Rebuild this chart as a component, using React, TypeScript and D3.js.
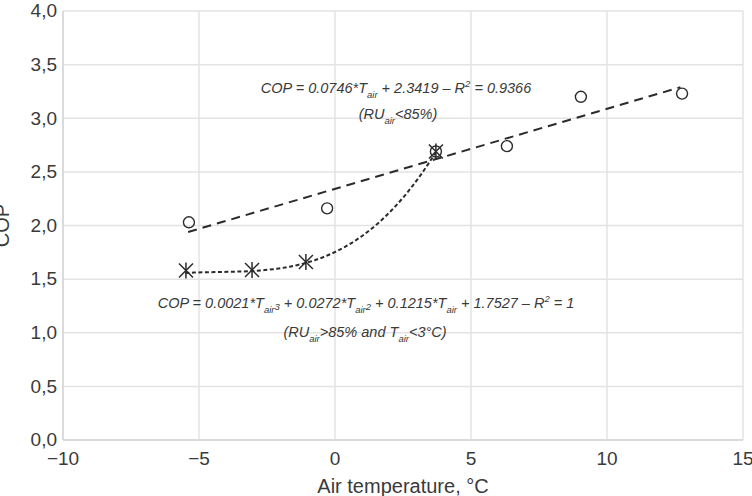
import React from "react";
import * as d3 from "d3";

const circleT = [-5.37, -0.29, 3.71, 6.32, 9.04, 12.76];
const circleCOP = [2.03, 2.16, 2.69, 2.74, 3.2, 3.23];
const starT = [-5.48, -3.05, -1.07, 3.71];
const starCOP = [1.58, 1.585, 1.66, 2.69];
const linCoef = [0.0746, 2.3419];
const linRange = [-5.4, 12.7];
const cubCoef = [0.0021, 0.0272, 0.1215, 1.7527];
const cubRange = [-5.5, 3.7];
const xTicks = [-10, -5, 0, 5, 10, 15];
const yTicks = [0, 0.5, 1, 1.5, 2, 2.5, 3, 3.5, 4];

const W = 752, H = 496;
const L = 63, R = 743, T = 11, B = 440;

export default function App() {
  const x = d3.scaleLinear().domain([-10, 15]).range([L, R]);
  const y = d3.scaleLinear().domain([0, 4]).range([B, T]);
  const fmt = (v: number) => v.toFixed(1).replace(".", ",");
  const fmtX = (v: number) => (v < 0 ? "\u2212" + Math.abs(v) : String(v));

  const lin = (t: number) => linCoef[0] * t + linCoef[1];
  const cub = (t: number) =>
    cubCoef[0] * t * t * t + cubCoef[1] * t * t + cubCoef[2] * t + cubCoef[3];
  const linPath = d3
    .line<number>()
    .x((t) => x(t))
    .y((t) => y(lin(t)))(linRange);
  const cubPts = d3.range(0, 61).map((i) => cubRange[0] + ((cubRange[1] - cubRange[0]) * i) / 60);
  const cubPath = d3
    .line<number>()
    .x((t) => x(t))
    .y((t) => y(cub(t)))(cubPts);

  const grid = "#e3e3e3";
  const ink = "#2b2b2b";
  const font = "'Liberation Sans', Arial, sans-serif";
  const s = 7;
  const sub = 9.5;

  return (
    <svg
      width={W}
      height={H}
      style={{ position: "absolute", left: 0, top: 0, background: "#fff" }}
      fontFamily={font}
    >
      {yTicks.map((v) => (
        <line key={"gy" + v} x1={L} x2={R} y1={y(v)} y2={y(v)} stroke={grid} strokeWidth={1.5} />
      ))}
      {xTicks.map((v) => (
        <line key={"gx" + v} x1={x(v)} x2={x(v)} y1={T} y2={B} stroke={grid} strokeWidth={1.5} />
      ))}
      <line x1={L} x2={L} y1={T} y2={B} stroke="#d6d6d6" strokeWidth={1.5} />
      <line x1={L} x2={R} y1={B} y2={B} stroke="#d6d6d6" strokeWidth={1.5} />
      {yTicks.map((v) => (
        <text key={"ty" + v} x={L - 6} y={y(v)} dy="0.33em" textAnchor="end" fontSize={19} fill="#3a3a3a">
          {fmt(v)}
        </text>
      ))}
      {xTicks.map((v) => (
        <text key={"tx" + v} x={x(v)} y={465} textAnchor="middle" fontSize={19} fill="#3a3a3a">
          {fmtX(v)}
        </text>
      ))}
      <text x={403} y={493} textAnchor="middle" fontSize={20} fill="#3a3a3a">
        Air temperature, °C
      </text>
      <text
        transform={`translate(9,${(T + B) / 2}) rotate(-90)`}
        textAnchor="middle"
        fontSize={20}
        fill="#3a3a3a"
      >
        COP
      </text>

      <path d={linPath || ""} fill="none" stroke={ink} strokeWidth={2} strokeDasharray="9 6" />
      <path d={cubPath || ""} fill="none" stroke={ink} strokeWidth={2} strokeDasharray="4 2.5" />

      {circleT.map((t, i) => (
        <circle key={"c" + i} cx={x(t)} cy={y(circleCOP[i])} r={5.5} fill="none" stroke={ink} strokeWidth={1.4} />
      ))}
      {starT.map((t, i) => {
        const cx = x(t), cy = y(starCOP[i]);
        return (
          <g key={"s" + i} stroke={ink} strokeWidth={1.5}>
            <line x1={cx - s} y1={cy - s} x2={cx + s} y2={cy + s} />
            <line x1={cx - s} y1={cy + s} x2={cx + s} y2={cy - s} />
            <line x1={cx} y1={cy - s - 1} x2={cx} y2={cy + s + 1} />
          </g>
        );
      })}

      <g fontStyle="italic" fontSize={14.5} fill="#3a3a3a" textAnchor="middle">
        <text x={396} y={93}>
          COP = 0.0746*T<tspan fontSize={sub} dy={5}>air</tspan>
          <tspan dy={-5}> + 2.3419 – R</tspan>
          <tspan fontSize={sub} dy={-6}>2</tspan>
          <tspan dy={6}> = 0.9366</tspan>
        </text>
        <text x={398} y={119}>
          (RU<tspan fontSize={sub} dy={5}>air</tspan>
          <tspan dy={-5}>&lt;85%)</tspan>
        </text>
        <text x={366} y={308}>
          COP = 0.0021*T<tspan fontSize={sub} dy={5}>air</tspan>
          <tspan fontSize={sub} dy={-3}>3</tspan>
          <tspan dy={-2}> + 0.0272*T</tspan>
          <tspan fontSize={sub} dy={5}>air</tspan>
          <tspan fontSize={sub} dy={-3}>2</tspan>
          <tspan dy={-2}> + 0.1215*T</tspan>
          <tspan fontSize={sub} dy={5}>air</tspan>
          <tspan dy={-5}> + 1.7527 – R</tspan>
          <tspan fontSize={sub} dy={-6}>2</tspan>
          <tspan dy={6}> = 1</tspan>
        </text>
        <text x={365} y={337}>
          (RU<tspan fontSize={sub} dy={5}>air</tspan>
          <tspan dy={-5}>&gt;85% and T</tspan>
          <tspan fontSize={sub} dy={5}>air</tspan>
          <tspan dy={-5}>&lt;3°C)</tspan>
        </text>
      </g>
    </svg>
  );
}
